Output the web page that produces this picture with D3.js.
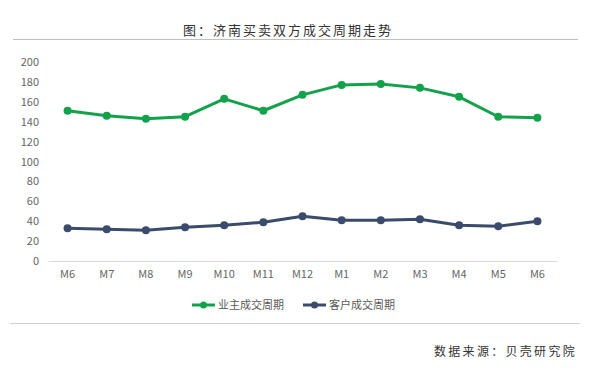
<!DOCTYPE html>
<html>
<head>
<meta charset="utf-8">
<script src="https://cdn.jsdelivr.net/npm/d3@7"></script>
<style>
  body { margin: 0; background: #fff; }
  text { font-family: "Noto Sans CJK SC", "Noto Sans", sans-serif; }
</style>
</head>
<body>
<div id="chart"></div>
<script>
const width = 590;
const height = 375;

const months = ['M6', 'M7', 'M8', 'M9', 'M10', 'M11', 'M12', 'M1', 'M2', 'M3', 'M4', 'M5', 'M6'];
// 业主成交周期
const owner_days = [151, 146, 143, 145, 163, 151, 167, 177, 178, 174, 165, 145, 144];
// 客户成交周期
const client_days = [33, 32, 31, 34, 36, 39, 45, 41, 41, 42, 36, 35, 40];
const y_ticks = [0, 20, 40, 60, 80, 100, 120, 140, 160, 180, 200];

const green = '#13a24b';
const navy = '#3a4b6c';

var svg = d3.select('#chart')
            .append('svg')
            .attr('width', width)
            .attr('height', height);

// title and rules
svg.append('text')
    .attr('x', 288).attr('y', 35)
    .attr('text-anchor', 'middle')
    .attr('font-size', 13)
    .attr('letter-spacing', 2)
    .attr('fill', '#333')
    .text('图：济南买卖双方成交周期走势');

svg.append('line')
    .attr('x1', 13).attr('x2', 578)
    .attr('y1', 39.5).attr('y2', 39.5)
    .attr('stroke', '#bfbfbf');

svg.append('line')
    .attr('x1', 10).attr('x2', 580)
    .attr('y1', 323.5).attr('y2', 323.5)
    .attr('stroke', '#d0d0d0');

svg.append('text')
    .attr('x', 577).attr('y', 356)
    .attr('text-anchor', 'end')
    .attr('font-size', 12)
    .attr('letter-spacing', 2.3)
    .attr('fill', '#333')
    .text('数据来源：贝壳研究院');

// scales
var xScale = d3.scaleBand()
                .domain(d3.range(months.length))
                .range([48, 557]);
var yScale = d3.scaleLinear()
                .domain([0, 200])
                .range([261, 62]);

var cx = function(i){ return xScale(i) + xScale.bandwidth() / 2; };

// y axis labels
var yAxis = d3.axisLeft(yScale).tickValues(y_ticks).tickSize(0).tickPadding(0);
var yg = svg.append('g')
    .attr('transform', 'translate(39,0)')
    .call(yAxis);
yg.select('.domain').remove();
yg.selectAll('text').attr('font-size', 11).attr('fill', '#666')
    .attr('font-family', '"Open Sans", "Noto Sans", sans-serif');

// x axis
var xAxis = d3.axisBottom(xScale).tickFormat(function(i){ return months[i]; }).tickSize(0).tickPadding(9);
var xg = svg.append('g')
    .attr('transform', 'translate(0,261)')
    .call(xAxis);
xg.select('.domain').attr('stroke', '#d9d9d9');
xg.selectAll('text').attr('font-size', 11).attr('fill', '#666')
    .attr('font-family', '"Open Sans", "Noto Sans", sans-serif');

// lines
var series = [
    {name: '业主成交周期', values: owner_days, color: green},
    {name: '客户成交周期', values: client_days, color: navy}
];

var line = d3.line()
    .x(function(d, i){ return cx(i); })
    .y(function(d){ return yScale(d); });

series.forEach(function(s){
    svg.append('path')
        .datum(s.values)
        .attr('fill', 'none')
        .attr('stroke', s.color)
        .attr('stroke-width', 3)
        .attr('stroke-linejoin', 'round')
        .attr('d', line);
    svg.append('g')
        .selectAll('circle')
        .data(s.values)
        .enter()
        .append('circle')
        .attr('cx', function(d, i){ return cx(i); })
        .attr('cy', function(d){ return yScale(d); })
        .attr('r', 4)
        .attr('fill', s.color);
});

// legend
var legend_x = [192, 303];
series.forEach(function(s, k){
    var g = svg.append('g').attr('transform', 'translate(' + legend_x[k] + ',305)');
    g.append('line')
        .attr('x1', 0).attr('x2', 23)
        .attr('stroke', s.color).attr('stroke-width', 3);
    g.append('circle').attr('cx', 11.5).attr('r', 3.5).attr('fill', s.color);
    g.append('text')
        .attr('x', 26).attr('y', 4)
        .attr('font-size', 11)
        .attr('fill', '#595959')
        .text(s.name);
});
</script>
</body>
</html>
